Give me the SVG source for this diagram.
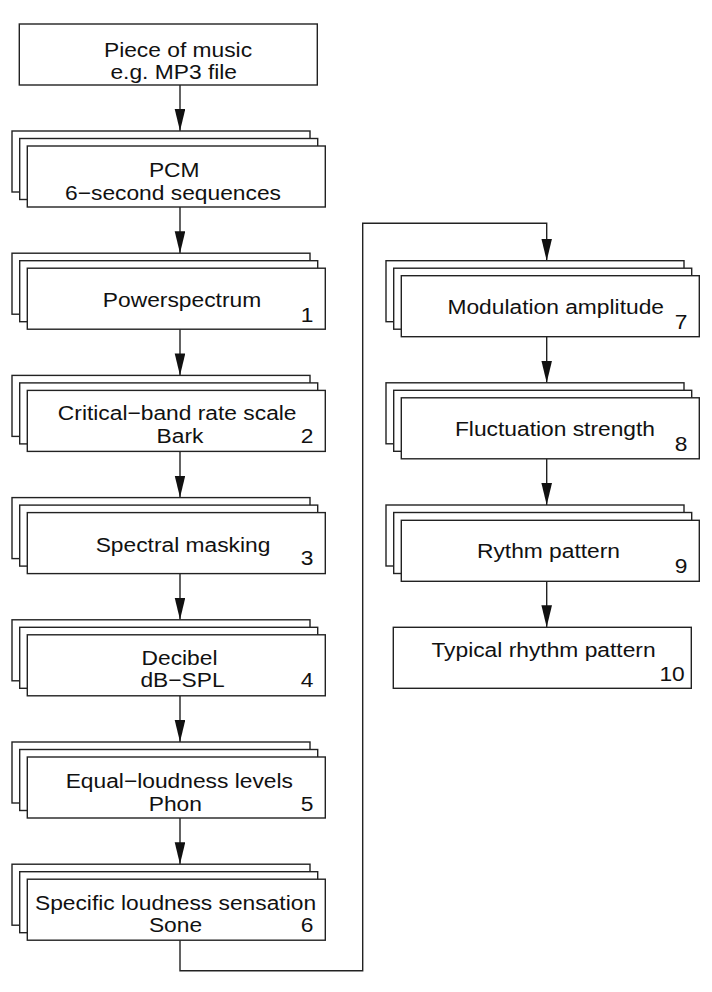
<svg xmlns="http://www.w3.org/2000/svg" width="712" height="992" viewBox="0 0 712 992">
<style>
rect{fill:#fff;stroke:#222;stroke-width:1.4}
text{font-family:"Liberation Sans",Arial,sans-serif;font-size:21px;fill:#111;text-anchor:middle}
text.n{text-anchor:end}
.c{fill:none;stroke:#222;stroke-width:1.4}
</style>
<defs>
<marker id="ah" markerUnits="userSpaceOnUse" markerWidth="24" markerHeight="12" refX="22" refY="5.3" orient="auto">
<path d="M0,0 L22,5.3 L0,10.6 z" fill="#111"/>
</marker>
</defs>
<rect width="712" height="992" style="fill:#fff;stroke:none"/>
<g id="connectors">
<line class="c" x1="180" y1="85" x2="180" y2="131" marker-end="url(#ah)"/>
<line class="c" x1="180" y1="207" x2="180" y2="253.2" marker-end="url(#ah)"/>
<line class="c" x1="180" y1="329.2" x2="180" y2="375.4" marker-end="url(#ah)"/>
<line class="c" x1="180" y1="451.4" x2="180" y2="497.6" marker-end="url(#ah)"/>
<line class="c" x1="180" y1="573.6" x2="180" y2="619.8" marker-end="url(#ah)"/>
<line class="c" x1="180" y1="695.8" x2="180" y2="742" marker-end="url(#ah)"/>
<line class="c" x1="180" y1="818" x2="180" y2="864.2" marker-end="url(#ah)"/>
<polyline class="c" points="180,940.2 180,970.7 362.7,970.7 362.7,223.3 546.7,223.3 546.7,260.7" marker-end="url(#ah)"/>
<line class="c" x1="546.7" y1="336.7" x2="546.7" y2="382.8" marker-end="url(#ah)"/>
<line class="c" x1="546.7" y1="458.8" x2="546.7" y2="505" marker-end="url(#ah)"/>
<line class="c" x1="546.7" y1="581.3" x2="546.7" y2="627.3" marker-end="url(#ah)"/>
</g>
<g id="piece">
<rect x="19.3" y="24" width="298" height="61"/>
<text transform="translate(178,56.5) scale(1.085,1)">Piece of music</text>
<text transform="translate(173.7,78.5) scale(1.085,1)">e.g. MP3 file</text>
</g>
<g id="pcm">
<rect x="12" y="131" width="298" height="61"/>
<rect x="19.7" y="138.5" width="298" height="61"/>
<rect x="27.3" y="146" width="298" height="61"/>
<text transform="translate(174.2,177) scale(1.085,1)">PCM</text>
<text transform="translate(173,199.5) scale(1.085,1)">6−second sequences</text>
</g>
<g id="n1">
<rect x="12" y="253.2" width="298" height="61"/>
<rect x="19.7" y="260.7" width="298" height="61"/>
<rect x="27.3" y="268.2" width="298" height="61"/>
<text transform="translate(182,306.7) scale(1.085,1)">Powerspectrum</text>
<text class="n" transform="translate(313.3,321.7) scale(1.085,1)">1</text>
</g>
<g id="n2">
<rect x="12" y="375.4" width="298" height="61"/>
<rect x="19.7" y="382.9" width="298" height="61"/>
<rect x="27.3" y="390.4" width="298" height="61"/>
<text transform="translate(177.2,420) scale(1.085,1)">Critical−band rate scale</text>
<text transform="translate(180,442.7) scale(1.085,1)">Bark</text>
<text class="n" transform="translate(313.3,443) scale(1.085,1)">2</text>
</g>
<g id="n3">
<rect x="12" y="497.6" width="298" height="61"/>
<rect x="19.7" y="505.1" width="298" height="61"/>
<rect x="27.3" y="512.6" width="298" height="61"/>
<text transform="translate(183,551.5) scale(1.085,1)">Spectral masking</text>
<text class="n" transform="translate(313.3,565) scale(1.085,1)">3</text>
</g>
<g id="n4">
<rect x="12" y="619.8" width="298" height="61"/>
<rect x="19.7" y="627.3" width="298" height="61"/>
<rect x="27.3" y="634.8" width="298" height="61"/>
<text transform="translate(179.5,665) scale(1.085,1)">Decibel</text>
<text transform="translate(182.5,687.3) scale(1.085,1)">dB−SPL</text>
<text class="n" transform="translate(313.3,687.3) scale(1.085,1)">4</text>
</g>
<g id="n5">
<rect x="12" y="742" width="298" height="61"/>
<rect x="19.7" y="749.5" width="298" height="61"/>
<rect x="27.3" y="757" width="298" height="61"/>
<text transform="translate(179.3,788.3) scale(1.085,1)">Equal−loudness levels</text>
<text transform="translate(175.3,811) scale(1.085,1)">Phon</text>
<text class="n" transform="translate(313.3,811) scale(1.085,1)">5</text>
</g>
<g id="n6">
<rect x="12" y="864.2" width="298" height="61"/>
<rect x="19.7" y="871.7" width="298" height="61"/>
<rect x="27.3" y="879.2" width="298" height="61"/>
<text transform="translate(175.5,910) scale(1.085,1)">Specific loudness sensation</text>
<text transform="translate(175.5,932.3) scale(1.085,1)">Sone</text>
<text class="n" transform="translate(313.3,932.3) scale(1.085,1)">6</text>
</g>
<g id="n7">
<rect x="386" y="260.7" width="298" height="61"/>
<rect x="393.7" y="268.2" width="298" height="61"/>
<rect x="401.3" y="275.7" width="298" height="61"/>
<text transform="translate(555.7,313.7) scale(1.085,1)">Modulation amplitude</text>
<text class="n" transform="translate(687.3,329) scale(1.085,1)">7</text>
</g>
<g id="n8">
<rect x="386" y="382.8" width="298" height="61"/>
<rect x="393.7" y="390.3" width="298" height="61"/>
<rect x="401.3" y="397.8" width="298" height="61"/>
<text transform="translate(555,436) scale(1.085,1)">Fluctuation strength</text>
<text class="n" transform="translate(687.3,451.2) scale(1.085,1)">8</text>
</g>
<g id="n9">
<rect x="386" y="505" width="298" height="61"/>
<rect x="393.7" y="512.5" width="298" height="61"/>
<rect x="401.3" y="520.3" width="298" height="61"/>
<text transform="translate(548.5,558.3) scale(1.085,1)">Rythm pattern</text>
<text class="n" transform="translate(687.3,573.3) scale(1.085,1)">9</text>
</g>
<g id="n10">
<rect x="393.3" y="627.3" width="298" height="61"/>
<text transform="translate(543.5,657) scale(1.085,1)">Typical rhythm pattern</text>
<text class="n" transform="translate(684.8,680.7) scale(1.085,1)">10</text>
</g>
</svg>
